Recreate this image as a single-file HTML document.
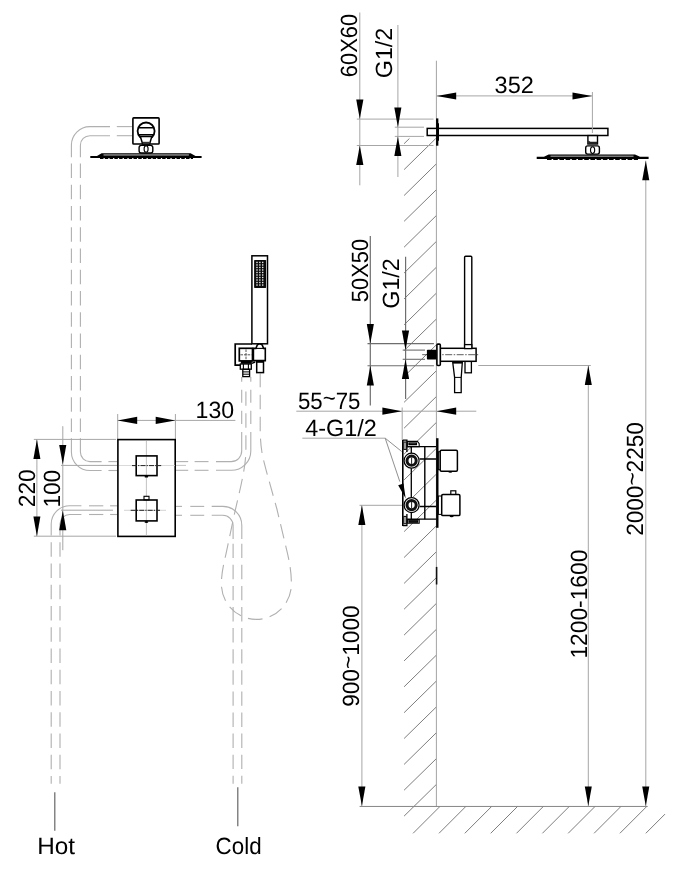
<!DOCTYPE html>
<html><head><meta charset="utf-8"><title>Shower installation diagram</title>
<style>
html,body{margin:0;padding:0;background:#fff;}
body{width:682px;height:888px;overflow:hidden;}
svg{display:block;}
text{font-family:"Liberation Sans",sans-serif;fill:#000;text-rendering:geometricPrecision;}
svg{will-change:transform;}
</style></head><body>
<svg width="682" height="888" viewBox="0 0 682 888">
<rect width="682" height="888" fill="#fff"/>
<g stroke="#7e7e7e" stroke-width="1" fill="none">
<line x1="404.1" y1="816.1" x2="436.4" y2="784.4"/>
<line x1="404.1" y1="790.2" x2="436.4" y2="758.6"/>
<line x1="404.1" y1="764.4" x2="436.4" y2="732.7"/>
<line x1="404.1" y1="738.5" x2="436.4" y2="706.9"/>
<line x1="404.1" y1="712.7" x2="436.4" y2="681.0"/>
<line x1="404.1" y1="686.8" x2="436.4" y2="655.1"/>
<line x1="404.1" y1="660.9" x2="436.4" y2="629.3"/>
<line x1="404.1" y1="635.1" x2="436.4" y2="603.4"/>
<line x1="404.1" y1="609.2" x2="436.4" y2="577.6"/>
<line x1="404.1" y1="583.4" x2="436.4" y2="551.7"/>
<line x1="404.1" y1="557.5" x2="436.4" y2="525.8"/>
<line x1="404.1" y1="531.6" x2="436.4" y2="500.0"/>
<line x1="404.1" y1="505.8" x2="436.4" y2="474.1"/>
<line x1="404.1" y1="479.9" x2="436.4" y2="448.3"/>
<line x1="404.1" y1="454.1" x2="436.4" y2="422.4"/>
<line x1="404.1" y1="428.2" x2="436.4" y2="396.5"/>
<line x1="404.1" y1="402.3" x2="436.4" y2="370.7"/>
<line x1="404.1" y1="376.5" x2="436.4" y2="344.8"/>
<line x1="404.1" y1="350.6" x2="436.4" y2="319.0"/>
<line x1="404.1" y1="324.8" x2="436.4" y2="293.1"/>
<line x1="404.1" y1="298.9" x2="436.4" y2="267.2"/>
<line x1="404.1" y1="273.0" x2="436.4" y2="241.4"/>
<line x1="404.1" y1="247.2" x2="436.4" y2="215.5"/>
<line x1="404.1" y1="221.3" x2="436.4" y2="189.7"/>
<line x1="404.1" y1="195.5" x2="436.4" y2="163.8"/>
<line x1="404.1" y1="169.6" x2="435.8" y2="138.5"/>
<line x1="404.1" y1="143.7" x2="409.4" y2="138.5"/>
<line x1="413.1" y1="833.3" x2="440.3" y2="806.1"/>
<line x1="439.0" y1="833.3" x2="466.2" y2="806.1"/>
<line x1="464.8" y1="833.3" x2="492.0" y2="806.1"/>
<line x1="490.7" y1="833.3" x2="517.9" y2="806.1"/>
<line x1="516.5" y1="833.3" x2="543.7" y2="806.1"/>
<line x1="542.4" y1="833.3" x2="569.6" y2="806.1"/>
<line x1="568.2" y1="833.3" x2="595.4" y2="806.1"/>
<line x1="594.1" y1="833.3" x2="621.3" y2="806.1"/>
<line x1="619.9" y1="833.3" x2="647.1" y2="806.1"/>
<line x1="645.8" y1="833.3" x2="665.0" y2="814.1"/>
</g>
<line x1="436.4" y1="60.7" x2="436.4" y2="806.4" stroke="#a4a4a4" stroke-width="1" />
<line x1="359.6" y1="806.45" x2="647.6" y2="806.45" stroke="#858585" stroke-width="1" />
<line x1="359.8" y1="12.5" x2="359.8" y2="185.3" stroke="#a6a6a6" stroke-width="1" />
<line x1="356.8" y1="119.1" x2="433.5" y2="119.1" stroke="#a6a6a6" stroke-width="1" />
<line x1="356.8" y1="145.5" x2="433.5" y2="145.5" stroke="#a6a6a6" stroke-width="1" />
<polygon points="359.8,119.1 356.2,99.5 363.4,99.5" fill="#000"/>
<polygon points="359.8,145.5 356.2,165.1 363.4,165.1" fill="#000"/>
<text x="357.2" y="77.2" font-size="23.5" textLength="63.4" lengthAdjust="spacingAndGlyphs" transform="rotate(-90 357.2 77.2)">60X60</text>
<line x1="397.9" y1="25" x2="397.9" y2="177" stroke="#a6a6a6" stroke-width="1" />
<line x1="394.8" y1="127.2" x2="424" y2="127.2" stroke="#a6a6a6" stroke-width="1" />
<line x1="394.8" y1="136.4" x2="424" y2="136.4" stroke="#a6a6a6" stroke-width="1" />
<polygon points="397.9,127.2 394.3,107.6 401.4,107.6" fill="#000"/>
<polygon points="397.9,136.4 394.3,156.0 401.4,156.0" fill="#000"/>
<text x="391.7" y="78.2" font-size="23.5" textLength="50.5" lengthAdjust="spacingAndGlyphs" transform="rotate(-90 391.7 78.2)">G1/2</text>
<line x1="436.4" y1="95.9" x2="592.3" y2="95.9" stroke="#a6a6a6" stroke-width="1" />
<polygon points="436.6,95.9 456.2,92.4 456.2,99.5" fill="#000"/>
<polygon points="592.1,95.9 572.5,92.4 572.5,99.5" fill="#000"/>
<text x="494.6" y="93" font-size="23.5" textLength="39.2" lengthAdjust="spacingAndGlyphs">352</text>
<line x1="370.3" y1="236" x2="370.3" y2="405.4" stroke="#6e6e6e" stroke-width="1.2" />
<line x1="367.5" y1="343.6" x2="433.9" y2="343.6" stroke="#6e6e6e" stroke-width="1.1" />
<line x1="367.5" y1="365.8" x2="433.9" y2="365.8" stroke="#6e6e6e" stroke-width="1.1" />
<polygon points="370.3,343.6 366.8,324.0 373.9,324.0" fill="#000"/>
<polygon points="370.3,365.8 366.8,385.4 373.9,385.4" fill="#000"/>
<text x="367.7" y="302.2" font-size="23.5" textLength="63.4" lengthAdjust="spacingAndGlyphs" transform="rotate(-90 367.7 302.2)">50X50</text>
<line x1="405.6" y1="256.7" x2="405.6" y2="398.9" stroke="#6e6e6e" stroke-width="1.2" />
<line x1="402.7" y1="350.1" x2="425" y2="350.1" stroke="#6e6e6e" stroke-width="1.1" />
<line x1="402.7" y1="359.3" x2="425" y2="359.3" stroke="#6e6e6e" stroke-width="1.1" />
<polygon points="405.5,350.1 401.9,330.5 409.1,330.5" fill="#000"/>
<polygon points="405.5,359.3 401.9,378.9 409.1,378.9" fill="#000"/>
<text x="398.8" y="308.7" font-size="23.5" textLength="50.5" lengthAdjust="spacingAndGlyphs" transform="rotate(-90 398.8 308.7)">G1/2</text>
<line x1="296.3" y1="411.2" x2="476.3" y2="411.2" stroke="#a6a6a6" stroke-width="1" />
<line x1="402.2" y1="407.5" x2="402.2" y2="440" stroke="#a6a6a6" stroke-width="1" />
<polygon points="402.0,411.2 382.4,407.6 382.4,414.8" fill="#000"/>
<polygon points="436.6,411.2 456.2,407.6 456.2,414.8" fill="#000"/>
<text x="298" y="409.3" font-size="23.5" textLength="62.4" lengthAdjust="spacingAndGlyphs">55<tspan dy="-3.6">~</tspan><tspan dy="3.6">75</tspan></text>
<text x="305.2" y="435.7" font-size="23.5" textLength="71.5" lengthAdjust="spacingAndGlyphs">4-G1/2</text>
<line x1="302.3" y1="438.2" x2="385.3" y2="438.2" stroke="#a6a6a6" stroke-width="1" />
<line x1="385.2" y1="438.2" x2="401.7" y2="451.5" stroke="#909090" stroke-width="1" />
<line x1="385.2" y1="438.2" x2="399.8" y2="481.6" stroke="#909090" stroke-width="1" />
<polygon points="405.7,498.4 398.2,485.2 403.5,483.6" fill="#000"/>
<line x1="361.9" y1="505.3" x2="361.9" y2="806" stroke="#a6a6a6" stroke-width="1" />
<line x1="359.5" y1="505.3" x2="402.3" y2="505.3" stroke="#a6a6a6" stroke-width="1" />
<polygon points="361.9,505.3 358.3,524.9 365.4,524.9" fill="#000"/>
<polygon points="361.9,806.0 358.3,786.4 365.4,786.4" fill="#000"/>
<text x="359.2" y="706.8" font-size="23.5" textLength="101.4" lengthAdjust="spacingAndGlyphs" transform="rotate(-90 359.2 706.8)">900<tspan dy="-3.6">~</tspan><tspan dy="3.6">1000</tspan></text>
<line x1="588.3" y1="365.5" x2="588.3" y2="806" stroke="#a6a6a6" stroke-width="1" />
<line x1="478.3" y1="365.5" x2="590.8" y2="365.5" stroke="#a6a6a6" stroke-width="1" />
<polygon points="588.3,365.5 584.8,385.1 591.8,385.1" fill="#000"/>
<polygon points="588.3,806.0 584.8,786.4 591.8,786.4" fill="#000"/>
<text x="586.9" y="658.6" font-size="23.5" textLength="109" lengthAdjust="spacingAndGlyphs" transform="rotate(-90 586.9 658.6)">1200-1600</text>
<line x1="645.8" y1="160.7" x2="645.8" y2="806" stroke="#a6a6a6" stroke-width="1" />
<polygon points="645.8,160.7 642.2,180.3 649.3,180.3" fill="#000"/>
<polygon points="645.8,806.0 642.2,786.4 649.3,786.4" fill="#000"/>
<text x="643.2" y="535.8" font-size="23.5" textLength="113.6" lengthAdjust="spacingAndGlyphs" transform="rotate(-90 643.2 535.8)">2000<tspan dy="-3.6">~</tspan><tspan dy="3.6">2250</tspan></text>
<line x1="436.6" y1="566.9" x2="436.6" y2="584.5" stroke="#111" stroke-width="1.6" />
<rect x="427.2" y="128.4" width="180.7" height="7.1" fill="#fff" stroke="#000" stroke-width="1.5"/>
<line x1="437.2" y1="118.4" x2="437.2" y2="145.7" stroke="#000" stroke-width="2.3" />
<line x1="438.2" y1="123.2" x2="438.2" y2="140.8" stroke="#000" stroke-width="1.6" />
<line x1="592.4" y1="92" x2="592.4" y2="133" stroke="#a6a6a6" stroke-width="1" />
<rect x="587.9" y="135.6" width="9.6" height="8.4" fill="#fff" stroke="#000" stroke-width="1.4"/>
<path d="M588.2,140.4 L590.5,141.8 L597.2,141.8 L597.2,144 L588.2,144 Z" fill="#222"/>
<rect x="585.7" y="145.9" width="13.7" height="8.2" rx="2" fill="#fff" stroke="#000" stroke-width="1.4"/>
<ellipse cx="592.6" cy="150.1" rx="2.1" ry="3.4" fill="#fff" stroke="#000" stroke-width="1.1"/>
<polygon points="536.7,156.8 544,156.8 548.6,154.5 635,154.5 640,156.8 648.6,156.8 648.6,158.9 536.7,158.9" fill="#000"/>
<rect x="550.5" y="155.6" width="83" height="1.2" fill="#9a9a9a"/>
<line x1="547" y1="159.3" x2="638" y2="159.3" stroke="#000" stroke-width="1.3" stroke-dasharray="4.6 1.6"/>
<rect x="464.6" y="256.2" width="7.2" height="92" rx="1" fill="#fff" stroke="#000" stroke-width="1.4"/>
<polygon points="452.6,361.4 462.4,361.4 461.2,377.4 461.2,392.7 454.6,392.7 454.6,377.4" fill="#fff" stroke="#000" stroke-width="1.3"/>
<rect x="453" y="361.2" width="9" height="2.4" fill="#000"/>
<line x1="454.6" y1="377.4" x2="461.2" y2="377.4" stroke="#000" stroke-width="1" />
<rect x="465" y="361.4" width="6.4" height="11.4" fill="#fff" stroke="#000" stroke-width="1.3"/>
<rect x="440.3" y="348.3" width="35.8" height="13" fill="#fff" stroke="#000" stroke-width="1.5"/>
<rect x="464.6" y="344.6" width="7.2" height="4" fill="#fff" stroke="#000" stroke-width="1.3"/>
<line x1="422.2" y1="354.7" x2="479" y2="354.7" stroke="#333" stroke-width="0.8" stroke-dasharray="7 1.5 1.5 1.5"/>
<rect x="436.9" y="344.1" width="3.4" height="21.4" rx="1" fill="#fff" stroke="#000" stroke-width="1.6"/>
<rect x="426.9" y="349.7" width="9.6" height="9.9" rx="0.8" fill="#000"/>
<g fill="none" stroke="#000" stroke-width="1.3">
<path d="M402.8,439.9 V526" stroke-width="1.6"/>
<path d="M402.8,440.2 H406.9 V452 M402.8,525.7 H406.9 V514"/>
<rect x="403.9" y="442" width="2.2" height="7.4" stroke-width="1"/>
<rect x="403.9" y="516.4" width="2.2" height="7.4" stroke-width="1"/>
<path d="M407.4,441.4 H417.4 L419.2,443.6 V446.6 H407.4 Z" fill="#fff" stroke="#000" stroke-width="1.1"/>
<rect x="409" y="443" width="7.4" height="1.6" fill="#9a9a9a"/>
<path d="M407.4,523.2 H419.2 V519.6 H407.4 Z" fill="#fff" stroke="#000" stroke-width="1.1"/>
<rect x="409" y="520.8" width="8.6" height="1.4" fill="#9a9a9a"/>
<path d="M407,446.6 H436.1 M407,519.2 H436.1"/>
<path d="M411.3,446.6 V519.2"/>
<path d="M424.8,446.6 V519.2" stroke-width="1.4"/>
<path d="M419.6,459 H436.1 M419.6,506.5 H436.1"/>
</g>
<circle cx="411.6" cy="460.7" r="7.5" fill="#fff" stroke="#000" stroke-width="1.2"/>
<circle cx="411.6" cy="460.7" r="4.6" fill="#fff" stroke="#111" stroke-width="3"/>
<line x1="411.6" y1="457.5" x2="411.6" y2="463.9" stroke="#222" stroke-width="1"/>
<circle cx="411.6" cy="505.1" r="7.5" fill="#fff" stroke="#000" stroke-width="1.2"/>
<circle cx="411.6" cy="505.1" r="4.6" fill="#fff" stroke="#111" stroke-width="3"/>
<line x1="411.6" y1="501.90000000000003" x2="411.6" y2="508.3" stroke="#222" stroke-width="1"/>
<line x1="437.3" y1="438.2" x2="437.3" y2="527.8" stroke="#000" stroke-width="2.4" />
<rect x="438.4" y="451.7" width="2" height="18" fill="#fff" stroke="#000" stroke-width="1"/>
<rect x="440.2" y="450.2" width="17.2" height="21" rx="1.2" fill="#fff" stroke="#000" stroke-width="1.5"/>
<rect x="450.8" y="490.8" width="5" height="3.8" fill="#fff" stroke="#000" stroke-width="1.2"/>
<rect x="438.4" y="496" width="3.4" height="18.4" fill="#fff" stroke="#000" stroke-width="1"/>
<rect x="441.7" y="494.6" width="18.2" height="21" rx="1.2" fill="#fff" stroke="#000" stroke-width="1.5"/>
<ellipse cx="450.3" cy="471.8" rx="2" ry="0.9" fill="#000"/>
<ellipse cx="451.6" cy="516.3" rx="2" ry="0.9" fill="#000"/>
<g fill="none" stroke="#b0b0b0" stroke-width="1.1">
<path d="M132,126.6 H116.8"/>
<path d="M110,126.6 H89.9 A18.5,18.5 0 0 0 71.4,145.1 V157.3"/>
<path d="M71.4,163.6 V432" stroke-dasharray="14.5 6.75" stroke-dashoffset="0"/>
<path d="M71.4,438.3 V452.0 A18.5,18.5 0 0 0 89.9,470.5 H101.6"/>
<path d="M108.4,470.5 H117"/>
<path d="M132,135.7 H116.8"/>
<path d="M110,135.7 H89.9 A9.5,9.5 0 0 0 80.4,145.2 V157.3"/>
<path d="M80.4,163.6 V432" stroke-dasharray="14.5 6.75" stroke-dashoffset="0"/>
<path d="M80.4,438.3 V452.1 A9.5,9.5 0 0 0 89.9,461.6 H101.6"/>
<path d="M108.4,461.6 H117"/>
<path d="M117,505.8 H110.1"/>
<path d="M103.3,505.8 H89"/>
<path d="M81.4,505.8 H69.6 A18.4,18.4 0 0 0 51.2,524.2 V535.6"/>
<path d="M51.2,542.3 V783.8" stroke-dasharray="14.5 6.75" stroke-dashoffset="0"/>
<path d="M117,514.5 H110.1"/>
<path d="M103.3,514.5 H89"/>
<path d="M81.4,514.5 H69.6 A9.6,9.6 0 0 0 60,524.1 V535.6"/>
<path d="M60,542.3 V783.8" stroke-dasharray="14.5 6.75" stroke-dashoffset="0"/>
<path d="M176,506.4 H182"/>
<path d="M190.3,506.4 H204.2"/>
<path d="M211.7,506.4 H222.8 A19,19 0 0 1 241.8,525.4 V538.9"/>
<path d="M241.8,543.7 V783.8" stroke-dasharray="14.4 6.7" stroke-dashoffset="0"/>
<path d="M176,515.3 H182"/>
<path d="M190.3,515.3 H204.2"/>
<path d="M211.7,515.3 H222.9 A10.2,10.2 0 0 1 233.1,525.5 V538.9"/>
<path d="M233.1,543.7 V783.8" stroke-dasharray="14.4 6.7" stroke-dashoffset="0"/>
<path d="M176,461.6 H188.2"/>
<path d="M194.6,461.6 H208.5"/>
<path d="M216,461.6 H231.2 A10.5,10.5 0 0 0 241.7,451.1 V431.9"/>
<path d="M241.7,423.9 V377" stroke-dasharray="13.1 8" stroke-dashoffset="0"/>
<path d="M176,470.3 H188.2"/>
<path d="M194.6,470.3 H208.5"/>
<path d="M216,470.3 H231.4 A19.4,19.4 0 0 0 250.8,450.90000000000003 V431.9"/>
<path d="M250.8,423.9 V377" stroke-dasharray="13.1 8" stroke-dashoffset="0"/>
<path d="M260.2,373.5 V432 C260.4,440 261,448 262.8,457.3 L266.5,471.6 L276.9,509 L287.6,553.9 C290,565 291.4,573 291.4,584 C291.4,603.5 275.8,619.4 256.4,619.4 C237,619.4 221.4,603.5 221.4,584 C221.4,573 223.5,565 226,553.9 L234.1,515.4 L240.6,487 C243.2,475 245.9,462 245.9,450 V391.4" stroke-dasharray="14.6 7.4" stroke-dashoffset="0.8"/>
</g>
<line x1="54.8" y1="792.3" x2="54.8" y2="830.7" stroke="#666" stroke-width="1.2" />
<line x1="237.8" y1="787.3" x2="237.8" y2="826.2" stroke="#666" stroke-width="1.2" />
<text x="37.2" y="853.6" font-size="23.5" textLength="37.8" lengthAdjust="spacingAndGlyphs">Hot</text>
<text x="215.6" y="853.6" font-size="23.5" textLength="46" lengthAdjust="spacingAndGlyphs">Cold</text>
<line x1="117.6" y1="420.4" x2="235.4" y2="420.4" stroke="#a6a6a6" stroke-width="1" />
<line x1="117.7" y1="414" x2="117.7" y2="439" stroke="#a6a6a6" stroke-width="1" />
<line x1="175.4" y1="414" x2="175.4" y2="439" stroke="#a6a6a6" stroke-width="1" />
<polygon points="117.6,420.4 137.2,416.8 137.2,423.9" fill="#000"/>
<polygon points="175.3,420.4 155.7,416.8 155.7,423.9" fill="#000"/>
<text x="195.6" y="417.6" font-size="23.5" textLength="38.6" lengthAdjust="spacingAndGlyphs">130</text>
<line x1="36.9" y1="439.4" x2="36.9" y2="536.1" stroke="#a6a6a6" stroke-width="1" />
<line x1="33.8" y1="439.4" x2="116" y2="439.4" stroke="#a6a6a6" stroke-width="1" />
<line x1="33.8" y1="536.2" x2="116" y2="536.2" stroke="#a6a6a6" stroke-width="1" />
<polygon points="36.9,439.4 33.4,459.0 40.4,459.0" fill="#000"/>
<polygon points="36.9,536.2 33.4,516.6 40.4,516.6" fill="#000"/>
<text x="34.7" y="507.2" font-size="23.5" textLength="37.8" lengthAdjust="spacingAndGlyphs" transform="rotate(-90 34.7 507.2)">220</text>
<line x1="62.8" y1="426.2" x2="62.8" y2="550.2" stroke="#a6a6a6" stroke-width="1" />
<line x1="61" y1="465.4" x2="117" y2="465.4" stroke="#a6a6a6" stroke-width="1" />
<line x1="176" y1="465.4" x2="186" y2="465.4" stroke="#c4c4c4" stroke-width="1" />
<line x1="61" y1="510.2" x2="113" y2="510.2" stroke="#a6a6a6" stroke-width="1" />
<polygon points="62.8,464.6 59.2,445.0 66.3,445.0" fill="#000"/>
<polygon points="62.8,510.6 59.2,530.2 66.3,530.2" fill="#000"/>
<text x="60.2" y="507.6" font-size="23.5" textLength="37.8" lengthAdjust="spacingAndGlyphs" transform="rotate(-90 60.2 507.6)">100</text>
<rect x="117.9" y="439.6" width="57.3" height="96.8" fill="none" stroke="#000" stroke-width="1.6"/>
<line x1="146.4" y1="441" x2="146.4" y2="535.5" stroke="#b4b4b4" stroke-width="0.8" />
<line x1="119" y1="465.5" x2="175" y2="465.5" stroke="#d0d0d0" stroke-width="0.8" />
<line x1="124" y1="510.3" x2="166" y2="510.3" stroke="#c8c8c8" stroke-width="0.8" />
<rect x="136.2" y="455.9" width="20.8" height="19.7" fill="none" stroke="#000" stroke-width="1.6"/>
<rect x="144" y="496.3" width="5" height="3.6" fill="#fff" stroke="#000" stroke-width="1.1"/>
<rect x="136.2" y="500" width="20.8" height="20.9" fill="none" stroke="#000" stroke-width="1.6"/>
<line x1="132" y1="465.6" x2="161.2" y2="465.6" stroke="#222" stroke-width="1" stroke-dasharray="5 1.1 1.3 1.1"/>
<line x1="130.7" y1="510.3" x2="160" y2="510.3" stroke="#222" stroke-width="1" stroke-dasharray="5 1.1 1.3 1.1"/>
<ellipse cx="146.4" cy="476.7" rx="1.9" ry="0.9" fill="#000"/>
<ellipse cx="146.4" cy="522" rx="1.9" ry="0.9" fill="#000"/>
<rect x="132.9" y="117.9" width="26.2" height="26.1" rx="0.8" fill="#fff" stroke="#000" stroke-width="1.6"/>
<circle cx="146.1" cy="131" r="8.5" fill="#fff" stroke="#000" stroke-width="1.8"/>
<path d="M138.4,127.8 H153.8 M138.4,134.8 H153.8" stroke="#000" stroke-width="1.6" fill="none"/>
<path d="M140.4,136.6 L151.8,136.6 L150.4,141.2 L149.6,144 L142.6,144 L141.8,141.2 Z" fill="#fff" stroke="#000" stroke-width="1.5"/>
<rect x="142.8" y="141.8" width="6.6" height="2" fill="#333"/>
<rect x="139.1" y="145.4" width="13.7" height="7.6" rx="2.2" fill="#fff" stroke="#000" stroke-width="1.4"/>
<ellipse cx="146.1" cy="149" rx="2" ry="3.2" fill="#fff" stroke="#000" stroke-width="1.1"/>
<polygon points="90.3,155.9 97,155.9 101.6,153.2 190.6,153.2 195.5,155.9 201.6,155.9 201.6,158 90.3,158" fill="#000"/>
<rect x="103.5" y="154.3" width="85.4" height="1.3" fill="#9a9a9a"/>
<line x1="100" y1="158.4" x2="193" y2="158.4" stroke="#000" stroke-width="1.3" stroke-dasharray="3.5 1.28"/>
<rect x="251.9" y="255.8" width="15.6" height="88" fill="#fff" stroke="#000" stroke-width="1.5"/>
<rect x="254.1" y="260" width="12" height="27.9" rx="0.6" fill="#0a0a0a"/>
<rect x="256.30" y="261.75" width="1.4" height="1.4" fill="#e8e8e8"/><rect x="259.15" y="261.75" width="1.4" height="1.4" fill="#e8e8e8"/><rect x="262.00" y="261.75" width="1.4" height="1.4" fill="#e8e8e8"/><rect x="256.30" y="264.26" width="1.4" height="1.4" fill="#e8e8e8"/><rect x="259.15" y="264.26" width="1.4" height="1.4" fill="#e8e8e8"/><rect x="262.00" y="264.26" width="1.4" height="1.4" fill="#e8e8e8"/><rect x="256.30" y="266.77" width="1.4" height="1.4" fill="#e8e8e8"/><rect x="259.15" y="266.77" width="1.4" height="1.4" fill="#e8e8e8"/><rect x="262.00" y="266.77" width="1.4" height="1.4" fill="#e8e8e8"/><rect x="256.30" y="269.28" width="1.4" height="1.4" fill="#e8e8e8"/><rect x="259.15" y="269.28" width="1.4" height="1.4" fill="#e8e8e8"/><rect x="262.00" y="269.28" width="1.4" height="1.4" fill="#e8e8e8"/><rect x="256.30" y="271.79" width="1.4" height="1.4" fill="#e8e8e8"/><rect x="259.15" y="271.79" width="1.4" height="1.4" fill="#e8e8e8"/><rect x="262.00" y="271.79" width="1.4" height="1.4" fill="#e8e8e8"/><rect x="256.30" y="274.30" width="1.4" height="1.4" fill="#e8e8e8"/><rect x="259.15" y="274.30" width="1.4" height="1.4" fill="#e8e8e8"/><rect x="262.00" y="274.30" width="1.4" height="1.4" fill="#e8e8e8"/><rect x="256.30" y="276.81" width="1.4" height="1.4" fill="#e8e8e8"/><rect x="259.15" y="276.81" width="1.4" height="1.4" fill="#e8e8e8"/><rect x="262.00" y="276.81" width="1.4" height="1.4" fill="#e8e8e8"/><rect x="256.30" y="279.32" width="1.4" height="1.4" fill="#e8e8e8"/><rect x="259.15" y="279.32" width="1.4" height="1.4" fill="#e8e8e8"/><rect x="262.00" y="279.32" width="1.4" height="1.4" fill="#e8e8e8"/><rect x="256.30" y="281.83" width="1.4" height="1.4" fill="#e8e8e8"/><rect x="259.15" y="281.83" width="1.4" height="1.4" fill="#e8e8e8"/><rect x="262.00" y="281.83" width="1.4" height="1.4" fill="#e8e8e8"/><rect x="256.30" y="284.34" width="1.4" height="1.4" fill="#e8e8e8"/><rect x="259.15" y="284.34" width="1.4" height="1.4" fill="#e8e8e8"/><rect x="262.00" y="284.34" width="1.4" height="1.4" fill="#e8e8e8"/>
<path d="M252,344 H235.2 V365.2 H240.8" fill="none" stroke="#000" stroke-width="1.7"/>
<path d="M251.8,363.4 L255.2,362" fill="none" stroke="#000" stroke-width="1.4"/>
<rect x="239.3" y="348.3" width="13.2" height="12.6" fill="#fff" stroke="#000" stroke-width="1.7"/>
<path d="M246,349.4 V360 M240.4,354.8 H251.6" stroke="#444" stroke-width="0.9" stroke-dasharray="2.6 1" fill="none"/>
<path d="M253.4,360.6 V348.4 H255.9 L257.3,344.9 Q259.7,343.2 262.2,344.9 L263.6,348.4 H265.3 V360.6 Z" fill="#fff" stroke="#000" stroke-width="1.6"/>
<path d="M255.9,348.4 H263.6" stroke="#000" stroke-width="1.1"/>
<rect x="240.8" y="361" width="11" height="2.8" fill="#000"/>
<rect x="240.3" y="364" width="11" height="5.2" fill="#fff" stroke="#000" stroke-width="1.3"/>
<path d="M243.4,364 V369.2 M248.4,364 V369.2" stroke="#000" stroke-width="1.1"/>
<rect x="242.8" y="369.4" width="6.8" height="7.2" fill="#fff" stroke="#000" stroke-width="1.3"/>
<path d="M242.8,371.9 H249.6 M242.8,374.2 H249.6" stroke="#000" stroke-width="1"/>
<rect x="256.7" y="360.8" width="6.8" height="11.8" fill="#fff" stroke="#000" stroke-width="1.5"/>
<rect x="256.7" y="360.4" width="6.8" height="2.4" fill="#000"/>
</svg>
</body></html>
